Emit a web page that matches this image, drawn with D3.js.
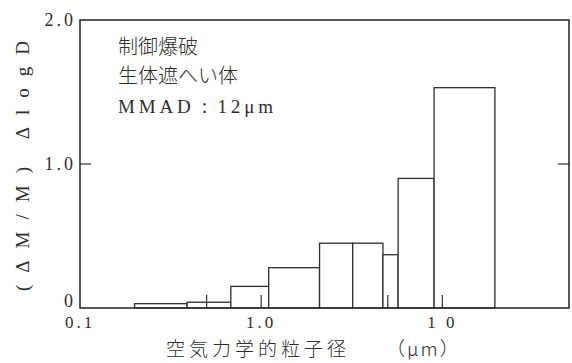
<!DOCTYPE html>
<html>
<head>
<meta charset="utf-8">
<script src="https://cdn.jsdelivr.net/npm/d3@7/dist/d3.min.js"></script>
<style>
  html, body { margin: 0; padding: 0; background: #fff; }
  svg { display: block; }
  .cjk { font-family: "Noto Sans CJK JP", sans-serif; font-weight: 300; }
  .serif { font-family: "Liberation Serif", "DejaVu Serif", serif; }
</style>
</head>
<body>
<svg id="chart" width="572" height="363"></svg>
<script>
// Particle-size bins (aerodynamic diameter, µm): lower and upper edge of each bar
const binLower = [0.2, 0.39, 0.68, 1.1, 2.1, 3.2, 4.7, 5.7, 9.0];
const binUpper = [0.39, 0.68, 1.1, 2.1, 3.2, 4.7, 5.7, 9.0, 19.5];
// Mass distribution (ΔM/M)/ΔlogD for each bin
const massFraction = [0.03, 0.04, 0.15, 0.28, 0.45, 0.45, 0.37, 0.90, 1.53];

// Axis ticks and their labels
const xTickValues = [0.1, 1, 10];
const xTickLabels = ["0.1", "1.0", "1 0"];
const xMinorTicks = [0.5, 1, 5, 10];
const yTickValues = [0, 1, 2];
const yTickLabels = ["0", "1.0", "2.0"];

const noteLines = ["制御爆破", "生体遮へい体", "MMAD：12μm"];

const ink = "#2e2e2e";
const svg = d3.select("#chart");

const x = d3.scaleLog().domain([0.1, 50]).range([80, 569]);
const y = d3.scaleLinear().domain([0, 2]).range([308, 20]);

// bars
const bins = massFraction.map((v, i) => ({ lo: binLower[i], hi: binUpper[i], v }));
svg.append("g").selectAll("rect").data(bins).join("rect")
  .attr("x", d => x(d.lo))
  .attr("y", d => y(d.v))
  .attr("width", d => x(d.hi) - x(d.lo))
  .attr("height", d => y(0) - y(d.v))
  .attr("fill", "#fff")
  .attr("stroke", ink)
  .attr("stroke-width", 1.3);

// frame
svg.append("rect")
  .attr("x", x.range()[0]).attr("y", y.range()[1])
  .attr("width", x.range()[1] - x.range()[0])
  .attr("height", y.range()[0] - y.range()[1])
  .attr("fill", "none").attr("stroke", ink).attr("stroke-width", 1.6);

// inward tick marks on the bottom edge
svg.append("g").selectAll("line").data(xMinorTicks).join("line")
  .attr("x1", d => x(d)).attr("x2", d => x(d))
  .attr("y1", y(0)).attr("y2", y(0) - 13)
  .attr("stroke", ink).attr("stroke-width", 1.2);

// inward tick marks at 1.0 on both sides
[[x.range()[0], 11], [x.range()[1], -11]].forEach(([x0, len]) => {
  svg.append("line")
    .attr("x1", x0).attr("x2", x0 + len)
    .attr("y1", y(1)).attr("y2", y(1))
    .attr("stroke", ink).attr("stroke-width", 1.2);
});

// x tick labels
svg.append("g").selectAll("text").data(xTickValues).join("text")
  .attr("class", "serif")
  .attr("x", d => x(d))
  .attr("y", 328)
  .attr("text-anchor", "middle")
  .attr("font-size", 17)
  .attr("letter-spacing", 3)
  .attr("fill", ink)
  .text((d, i) => xTickLabels[i]);

// y tick labels
svg.append("g").selectAll("text").data(yTickValues).join("text")
  .attr("class", "serif")
  .attr("x", 76)
  .attr("y", d => y(d) + (d === 0 ? -1 : 6))
  .attr("text-anchor", "end")
  .attr("font-size", 18)
  .attr("letter-spacing", 3)
  .attr("fill", ink)
  .text((d, i) => yTickLabels[i]);

// axis titles
const xTitle = svg.append("text")
  .attr("class", "cjk")
  .attr("y", 356)
  .attr("font-size", 19)
  .attr("fill", ink);
xTitle.append("tspan").attr("x", 166).attr("letter-spacing", 4).text("空気力学的粒子径");
xTitle.append("tspan").attr("x", 386).attr("letter-spacing", 2).text("（μm）");

svg.append("text")
  .attr("class", "serif")
  .attr("transform", "translate(29,166) rotate(-90)")
  .attr("text-anchor", "middle")
  .attr("font-size", 19)
  .attr("textLength", 250)
  .attr("lengthAdjust", "spacing")
  .attr("fill", ink)
  .text("(ΔM/M) ΔlogD");

// annotation block
const noteY = [54, 83, 113];
svg.append("g").selectAll("text").data(noteLines).join("text")
  .attr("class", (d, i) => i === 2 ? "serif" : "cjk")
  .attr("x", 118)
  .attr("y", (d, i) => noteY[i])
  .attr("font-size", (d, i) => i === 2 ? 19 : 20)
  .attr("fill", ink)
  .each(function (d, i) {
    if (i === 2) d3.select(this).attr("textLength", 155).attr("lengthAdjust", "spacing");
  })
  .text(d => d);
</script>
</body>
</html>
